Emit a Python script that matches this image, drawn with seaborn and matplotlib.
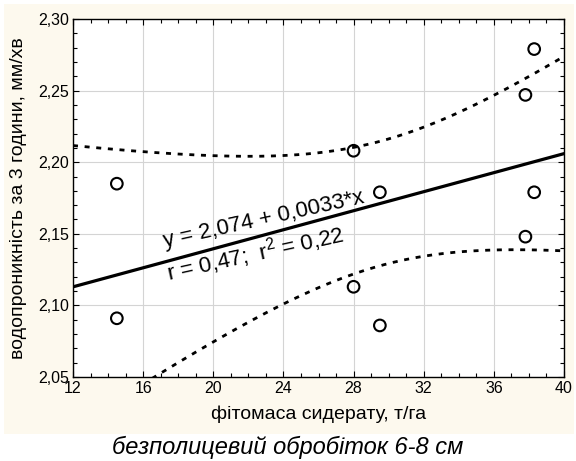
import numpy as np
import pandas as pd
import seaborn as sns
import matplotlib.pyplot as plt
from matplotlib.patches import Rectangle
from matplotlib.ticker import MultipleLocator, FuncFormatter

# Values
biomass = [14.5, 14.5, 28.0, 28.0, 29.5, 29.5, 37.8, 37.8, 38.3, 38.3]
infiltration = [2.185, 2.091, 2.208, 2.113, 2.179, 2.086, 2.247, 2.148, 2.279, 2.179]
x_ticks = [12, 16, 20, 24, 28, 32, 36, 40]
y_ticks = [2.05, 2.10, 2.15, 2.20, 2.25, 2.30]

data = pd.DataFrame({'x': biomass, 'y': infiltration})

# Linear fit and 95% confidence band of the mean
x = np.array(biomass)
y = np.array(infiltration)
n = len(x)
slope, intercept = np.polyfit(x, y, 1)
resid = y - (intercept + slope * x)
s = np.sqrt(np.sum(resid ** 2) / (n - 2))
sxx = np.sum((x - x.mean()) ** 2)
t_crit = 2.306  # t(0.975, df=8)

grid_x = np.linspace(12, 40, 200)
fit = intercept + slope * grid_x
half = t_crit * s * np.sqrt(1 / n + (grid_x - x.mean()) ** 2 / sxx)
band = pd.DataFrame({'x': grid_x, 'fit': fit, 'lo': fit - half, 'hi': fit + half})

sns.set_style('white')
plt.rcParams['font.family'] = ['Liberation Sans', 'DejaVu Sans']
plt.rcParams['mathtext.fontset'] = 'custom'
plt.rcParams['mathtext.rm'] = 'Liberation Sans'
plt.rcParams['mathtext.it'] = 'Liberation Sans:italic'
plt.rcParams['text.color'] = 'black'
plt.rcParams['axes.labelcolor'] = 'black'
plt.rcParams['xtick.color'] = 'black'
plt.rcParams['ytick.color'] = 'black'

fig = plt.figure(figsize=(5.76, 4.61), dpi=100, facecolor='white')
bg = Rectangle((4 / 576, 27 / 461), 570 / 576, 430 / 461,
               transform=fig.transFigure, facecolor='#fdf9ee',
               edgecolor='none', zorder=-10)
fig.patches.append(bg)
ax = fig.add_axes([73 / 576, 1 - 377 / 461, 491 / 576, 358 / 461])
ax.set_facecolor('white')

sns.lineplot(data=band, x='x', y='fit', ax=ax, color='black', lw=2.3)
sns.lineplot(data=band, x='x', y='hi', ax=ax, color='black', lw=2.0,
             linestyle=(0, (1.8, 2.4)))
sns.lineplot(data=band, x='x', y='lo', ax=ax, color='black', lw=2.0,
             linestyle=(0, (1.8, 2.4)))
sns.scatterplot(data=data, x='x', y='y', ax=ax, marker='o', s=70,
                facecolor='none', edgecolor='black', linewidth=1.5, zorder=5)

ax.set_xlim(12, 40)
ax.set_ylim(2.05, 2.30)
ax.set_xticks(x_ticks)
ax.set_yticks(y_ticks)
ax.xaxis.set_minor_locator(MultipleLocator(1))
ax.yaxis.set_minor_locator(MultipleLocator(0.01))
ax.xaxis.set_major_formatter(FuncFormatter(lambda v, p: f'{v:.0f}'))
ax.yaxis.set_major_formatter(FuncFormatter(lambda v, p: f'{v:.2f}'.replace('.', ',')))
ax.tick_params(which='both', direction='in', top=True, right=True,
               bottom=True, left=True, labelsize=11.5, color='black')
ax.tick_params(which='major', length=4, width=0.8, pad=3)
ax.tick_params(which='minor', length=3, width=0.8)
ax.grid(True, which='major', color='#d4d4d4', lw=0.8)
ax.set_axisbelow(True)
for sp in ax.spines.values():
    sp.set_color('black')
    sp.set_linewidth(1.0)

ax.set_xlabel('фітомаса сидерату, т/га', fontsize=14, labelpad=7)
ax.set_ylabel('водопроникність за 3 години, мм/хв', fontsize=14, labelpad=8)

ax.text(22.95, 2.1561, 'y = 2,074 + 0,0033*x', fontsize=16, rotation=12.5,
        ha='center', va='baseline', rotation_mode='anchor')
ax.text(22.5, 2.131, 'r = 0,47;  r$^2$ = 0,22', fontsize=16, rotation=12.5,
        ha='center', va='baseline', rotation_mode='anchor')

fig.text(0.5, 1 - 447 / 461, 'безполицевий обробіток 6-8 см', fontsize=17,
         style='italic', ha='center', va='center')

fig.savefig('out.png', dpi=100, facecolor='white')
